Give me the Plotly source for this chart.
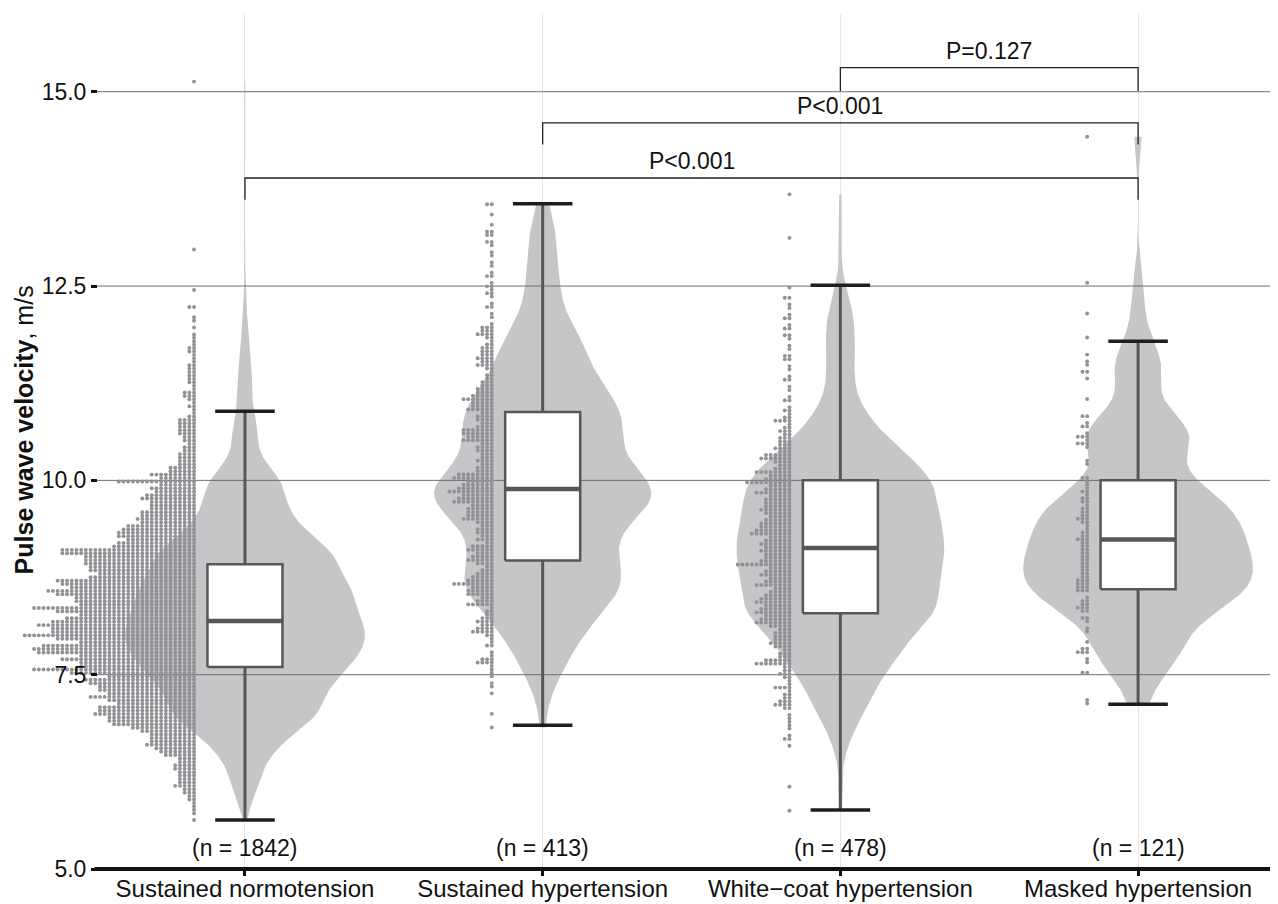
import numpy as np
import plotly.graph_objects as go

# ---------------- data ----------------
categories = ["Sustained normotension", "Sustained hypertension",
              "White\u2212coat hypertension", "Masked hypertension"]
n_labels = ["(n = 1842)", "(n = 413)", "(n = 478)", "(n = 121)"]

# dot-plot rows: first row value, row step (dot diameter in data units),
# number of dots in each row (bottom -> top) and isolated extra values
row_step = 0.044

sn_start = 5.63
sn_counts = [1, 0, 1, 1, 1, 1, 2, 2, 3, 3,
             5, 4, 4, 4, 4, 5, 5, 4, 4, 7,
             8, 9, 11, 10, 10, 10, 12, 14, 18, 19,
             19, 22, 21, 21, 17, 19, 23, 19, 21, 21,
             23, 24, 19, 27, 35, 25, 25, 29, 25, 34,
             35, 33, 25, 30, 37, 31, 31, 34, 31, 28,
             25, 30, 35, 25, 26, 26, 30, 32, 27, 29,
             30, 23, 21, 23, 23, 24, 24, 24, 29, 29,
             18, 17, 15, 17, 17, 16, 15, 12, 13, 12,
             12, 10, 10, 10, 12, 11, 9, 10, 8, 17,
             8, 10, 6, 6, 4, 4, 4, 4, 3, 3,
             2, 3, 3, 4, 4, 4, 4, 4, 2, 1,
             1, 2, 1, 2, 3, 3, 1, 1, 2, 2,
             2, 2, 2, 2, 1, 1, 1, 2, 2, 1,
             1, 1, 1, 0, 1, 0, 1, 1, 0, 0,
             2, 0, 0, 0, 0, 1]
sn_extra = [12.97, 15.13]

sh_start = 6.82
sh_counts = [1, 0, 0, 0, 1, 0, 0, 0, 0, 0,
             1, 0, 1, 1, 0, 1, 1, 1, 1, 4,
             3, 1, 1, 0, 2, 1, 1, 2, 5, 4,
             3, 4, 3, 2, 2, 1, 6, 4, 3, 6,
             6, 5, 9, 6, 5, 4, 3, 2, 4, 6,
             5, 4, 6, 5, 2, 4, 3, 4, 4, 3,
             4, 7, 6, 6, 6, 5, 9, 8, 7, 10,
             8, 7, 6, 9, 8, 4, 4, 3, 4, 3,
             3, 4, 4, 3, 7, 6, 7, 7, 4, 3,
             4, 4, 3, 6, 5, 5, 7, 5, 4, 4,
             3, 3, 2, 2, 1, 2, 4, 3, 4, 3,
             3, 3, 2, 1, 2, 4, 3, 3, 1, 0,
             1, 1, 0, 2, 1, 0, 1, 2, 1, 2,
             1, 0, 2, 1, 0, 1, 1, 0, 1, 1,
             0, 1, 2, 0, 2, 2, 0, 1, 0, 0,
             1, 0, 0, 2]
sh_extra = []

wc_start = 5.75
wc_counts = [1, 0, 0, 0, 0, 0, 0, 1, 0, 0,
             0, 0, 0, 0, 0, 0, 0, 0, 0, 1,
             0, 2, 1, 0, 1, 1, 1, 1, 1, 0,
             2, 4, 3, 2, 2, 1, 4, 1, 1, 2,
             3, 2, 2, 8, 6, 3, 3, 2, 4, 5,
             4, 4, 4, 3, 5, 8, 7, 6, 8, 7,
             6, 8, 7, 6, 5, 4, 8, 6, 5, 7,
             6, 5, 12, 7, 6, 6, 7, 6, 7, 6,
             5, 9, 8, 7, 7, 6, 5, 6, 7, 6,
             6, 6, 5, 8, 6, 5, 10, 6, 5, 8,
             4, 3, 4, 7, 6, 3, 4, 3, 3, 3,
             2, 3, 2, 1, 4, 2, 1, 2, 1, 0,
             2, 1, 0, 1, 1, 0, 2, 1, 0, 1,
             1, 0, 2, 2, 0, 1, 1, 0, 1, 2,
             0, 2, 1, 0, 2, 1, 0, 1, 1, 0,
             2, 0, 0, 1]
wc_extra = [13.12, 13.68]

mh_start = 7.13
mh_counts = [1, 1, 0, 0, 0, 0, 0, 0, 0, 2,
             0, 0, 1, 1, 0, 3, 2, 0, 1, 0,
             0, 1, 1, 0, 1, 2, 0, 2, 3, 2,
             2, 1, 0, 3, 3, 3, 3, 2, 2, 2,
             2, 2, 2, 2, 2, 2, 2, 2, 3, 2,
             2, 1, 1, 2, 3, 2, 2, 2, 1, 2,
             2, 1, 2, 1, 1, 1, 2, 0, 0, 0,
             1, 1, 0, 0, 0, 1, 3, 1, 3, 1,
             0, 2, 1, 0, 2, 0, 0, 0, 0, 1,
             0, 0, 0, 0, 0, 1, 0, 2, 0, 1,
             1, 0, 1, 0, 0, 0, 0, 1, 0, 0,
             0, 0, 0, 0, 1, 0, 0, 0, 0, 0,
             0, 0, 0, 1]
mh_extra = [14.42]

# box statistics (whisker low, Q1, median, Q3, whisker high)
whisk_lo = [5.63, 6.85, 5.76, 7.12]
q1 = [7.60, 8.97, 8.29, 8.60]
median = [8.19, 9.89, 9.13, 9.24]
q3 = [8.92, 10.88, 10.00, 10.00]
whisk_hi = [10.89, 13.56, 12.51, 11.79]

# pairwise comparisons: (group a, group b, bracket level, leg length, label)
comp_a = [2, 1, 0]
comp_b = [3, 3, 3]
comp_y = [15.31, 14.60, 13.89]
comp_leg = [0.30, 0.28, 0.28]
comp_text = ["P=0.127", "P<0.001", "P<0.001"]

y_ticks = [5.0, 7.5, 10.0, 12.5, 15.0]
y_ticktext = ["5.0", "7.5", "10.0", "12.5", "15.0"]

# ---------------- style ----------------
FONT = "Liberation Sans, Arial, Helvetica, sans-serif"
VIOLIN_FILL = "#c5c6c8"
DOT_COLOR = "#909295"
BOX_LINE = "#575757"
CAP_COLOR = "#1e1e1e"
violin_half = [0.403, 0.365, 0.349, 0.386]
box_half = 0.126
cap_half = 0.10
dot_offset = 0.171
dot_dx = 0.0158
dot_size = 3.9
kde_adjust = 0.8
PANEL_X0 = -0.497          # left edge of the visible panel (grid lines / axis line)
XR = [-0.7758, 3.470]      # drawing area extends further left so the dot stacks can spill over
YR = [5.0, 16.0]
N_LABEL_Y = 5.27
PLOT_W = 1264

groups = [
    (sn_start, sn_counts, sn_extra),
    (sh_start, sh_counts, sh_extra),
    (wc_start, wc_counts, wc_extra),
    (mh_start, mh_counts, mh_extra),
]


def group_values(start, counts, extra):
    rows = start + row_step * np.arange(len(counts))
    return np.concatenate([np.repeat(rows, counts), np.array(extra, dtype=float)])


def kde_nrd0(vals, grid, adjust=1.0):
    n = len(vals)
    sd = np.std(vals, ddof=1)
    iqr = np.subtract(*np.percentile(vals, [75, 25]))
    bw = adjust * 0.9 * min(sd, iqr / 1.34) * n ** (-0.2)
    d = (grid[:, None] - vals[None, :]) / bw
    return np.exp(-0.5 * d * d).sum(axis=1)


fig = go.Figure()

# violins
for i, (start, counts, extra) in enumerate(groups):
    vals = group_values(start, counts, extra)
    grid = np.linspace(vals.min(), vals.max(), 600)
    dens = kde_nrd0(vals, grid, kde_adjust)
    hw = dens / dens.max() * violin_half[i]
    xs = np.concatenate([i + hw, (i - hw)[::-1]])
    ys = np.concatenate([grid, grid[::-1]])
    fig.add_trace(go.Scatter(x=xs, y=ys, mode="lines", fill="toself",
                             fillcolor=VIOLIN_FILL, line=dict(width=0, color=VIOLIN_FILL),
                             hoverinfo="skip", showlegend=False))

# horizontal grid lines (drawn above violins, below boxes)
gx, gy = [], []
for t in y_ticks[1:]:
    gx += [PANEL_X0, XR[1], None]
    gy += [t, t, None]
fig.add_trace(go.Scatter(x=gx, y=gy, mode="lines", line=dict(color="#6f6f6f", width=1),
                         hoverinfo="skip", showlegend=False))

# whiskers
wx, wy = [], []
for i in range(4):
    wx += [i, i, None, i, i, None]
    wy += [whisk_lo[i], q1[i], None, q3[i], whisk_hi[i], None]
fig.add_trace(go.Scatter(x=wx, y=wy, mode="lines", line=dict(color=BOX_LINE, width=3),
                         hoverinfo="skip", showlegend=False))

# boxes
for i in range(4):
    fig.add_trace(go.Scatter(
        x=[i - box_half, i + box_half, i + box_half, i - box_half, i - box_half],
        y=[q1[i], q1[i], q3[i], q3[i], q1[i]],
        mode="lines", fill="toself", fillcolor="white",
        line=dict(color=BOX_LINE, width=2.5), hoverinfo="skip", showlegend=False))

# medians
mx, my = [], []
for i in range(4):
    mx += [i - box_half, i + box_half, None]
    my += [median[i], median[i], None]
fig.add_trace(go.Scatter(x=mx, y=my, mode="lines", line=dict(color=BOX_LINE, width=4.5),
                         hoverinfo="skip", showlegend=False))

# whisker caps
cx, cy = [], []
for i in range(4):
    for v in (whisk_lo[i], whisk_hi[i]):
        cx += [i - cap_half, i + cap_half, None]
        cy += [v, v, None]
fig.add_trace(go.Scatter(x=cx, y=cy, mode="lines", line=dict(color=CAP_COLOR, width=3.5),
                         hoverinfo="skip", showlegend=False))

# dot plots stacked to the left
for i, (start, counts, extra) in enumerate(groups):
    dx, dy = [], []
    rows = list(start + row_step * np.arange(len(counts)))
    cnts = list(counts)
    for v in extra:
        rows.append(v)
        cnts.append(1)
    for v, k in zip(rows, cnts):
        for j in range(k):
            dx.append(i - dot_offset - j * dot_dx)
            dy.append(v)
    fig.add_trace(go.Scatter(x=dx, y=dy, mode="markers",
                             marker=dict(color=DOT_COLOR, size=dot_size, line=dict(width=0)),
                             hoverinfo="skip", showlegend=False))

# bottom axis line (panel only; paper-referenced in y so it is not clipped)
shapes = [dict(type="line", xref="x", yref="paper", x0=PANEL_X0 - 0.008, x1=XR[1],
               y0=0, y1=0, line=dict(color="#111111", width=4), layer="above")]
annotations = []

# comparison brackets
for a, b, yv, leg, txt in zip(comp_a, comp_b, comp_y, comp_leg, comp_text):
    shapes.append(dict(type="path", xref="x", yref="y",
                       path=f"M {a},{yv - leg} L {a},{yv} L {b},{yv} L {b},{yv - leg}",
                       line=dict(color="#222222", width=1.3), layer="above"))
    annotations.append(dict(x=(a + b) / 2, y=yv, xref="x", yref="y", text=txt,
                            showarrow=False, yanchor="bottom", yshift=2,
                            font=dict(family=FONT, size=23, color="#111111")))

for i, t in enumerate(n_labels):
    annotations.append(dict(x=i, y=N_LABEL_Y, xref="x", yref="y", text=t, showarrow=False,
                            font=dict(family=FONT, size=23, color="#111111")))

# y-axis title (centre ~24px from the window's left edge; plot area starts at 14px)
annotations.append(dict(x=(24 - 14) / PLOT_W, y=0.513, xref="paper", yref="paper",
                        text="<b>Pulse wave velocity</b>, m/s", textangle=-90,
                        showarrow=False, xanchor="center", yanchor="middle",
                        font=dict(family=FONT, size=25, color="#111111")))

yaxis_pos = (PANEL_X0 - XR[0]) / (XR[1] - XR[0])

# the page adds an 8px body margin, so the figure is 8px smaller than the window
fig.update_layout(
    width=1270, height=896,
    margin=dict(l=6, r=0, t=6, b=35, autoexpand=False),
    paper_bgcolor="white", plot_bgcolor="white",
    showlegend=False,
    shapes=shapes, annotations=annotations,
    font=dict(family=FONT, size=23, color="#111111"),
)

fig.update_xaxes(range=XR, tickvals=[0, 1, 2, 3], ticktext=categories,
                 showgrid=True, gridcolor="#e6e6e6", gridwidth=1,
                 showline=False,
                 ticks="outside", ticklen=6, tickwidth=2.5, tickcolor="#111111",
                 ticklabelstandoff=-8,
                 tickfont=dict(family=FONT, size=24, color="#111111"),
                 zeroline=False, fixedrange=True)
fig.update_yaxes(range=YR, tickvals=y_ticks, ticktext=y_ticktext,
                 anchor="free", position=yaxis_pos,
                 showgrid=False, showline=False, zeroline=False,
                 ticks="outside", ticklen=6, tickwidth=2.5, tickcolor="#111111",
                 tickfont=dict(family=FONT, size=23, color="#111111"),
                 fixedrange=True)

fig.write_html("out.html")
